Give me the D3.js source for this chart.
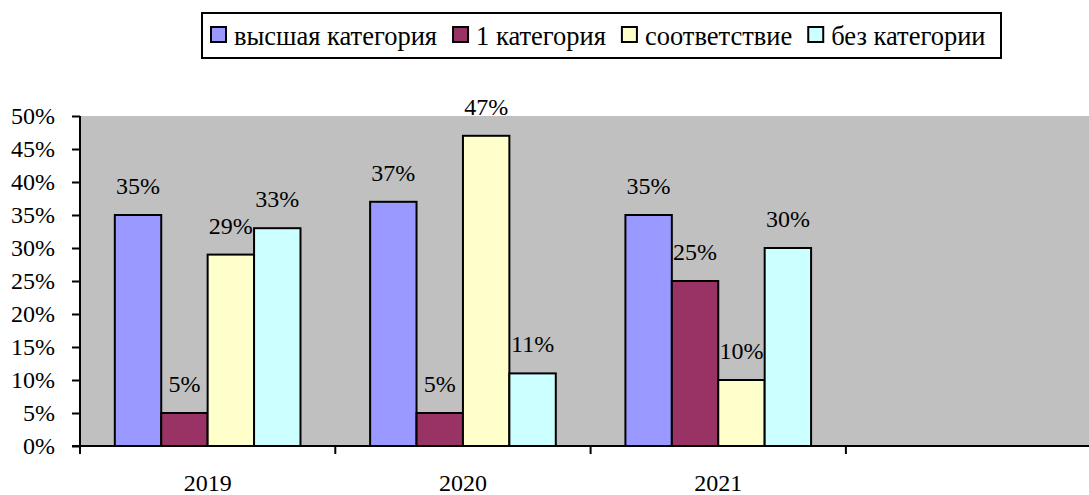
<!DOCTYPE html>
<html>
  <head>
    <meta charset="utf-8">
    <title>Категории</title>
    <script type="text/javascript" src="https://cdn.jsdelivr.net/npm/d3@7/dist/d3.min.js"></script>
    <style>
      body { margin: 0; background: #fff; }
      text { font-family: "Liberation Serif", "Times New Roman", serif; fill: #000; }
    </style>
  </head>
  <body>
    <script type="text/javascript">
      // data
      var years = ["2019", "2020", "2021", ""];
      var series = ["высшая категория", "1 категория", "соответствие", "без категории"];
      var colors = ["#9999FF", "#993366", "#FFFFCC", "#CCFFFF"];
      var vysshaya = [35, 37, 35];
      var pervaya = [5, 5, 25];
      var sootv = [29, 47, 10];
      var bezKat = [33, 11, 30];
      var yTicks = [0, 5, 10, 15, 20, 25, 30, 35, 40, 45, 50];

      var w = 1089
      var h = 495
      var fs = 24
      var legFs = 26.5
      var serif = "Liberation Serif"

      var svg = d3.select("body").append("svg")
                  .attr("width", w)
                  .attr("height", h);

      var plotLeft = 80, plotTop = 116, plotBottom = 446;
      var plotRight = plotLeft + 4 * 255.3;

      var x0 = d3.scaleBand().domain(years).range([plotLeft, plotRight]);
      var x1 = d3.scaleBand().domain(series)
                 .range([0, x0.bandwidth()])
                 .paddingInner(0).paddingOuter(0.75);
      var y = d3.scaleLinear().domain([0, 50]).range([plotBottom, plotTop]);

      // plot area
      svg.append("rect")
         .attr("x", plotLeft).attr("y", y(50))
         .attr("width", plotRight - plotLeft)
         .attr("height", y(0) - y(50))
         .attr("fill", "#C0C0C0");

      // bars
      var rows = [vysshaya, pervaya, sootv, bezKat];
      var bars = [];
      rows.forEach(function(vals, s) {
        vals.forEach(function(v, i) {
          bars.push({year: years[i], s: series[s], c: colors[s], v: v});
        });
      });

      svg.selectAll("rect.bar")
         .data(bars)
         .enter()
         .append("rect")
         .attr("class", "bar")
         .attr("x", function(d) { return x0(d.year) + x1(d.s); })
         .attr("y", function(d) { return y(d.v); })
         .attr("width", x1.bandwidth())
         .attr("height", function(d) { return y(0) - y(d.v); })
         .attr("fill", function(d) { return d.c; })
         .attr("stroke", "#000")
         .attr("stroke-width", 2);

      svg.selectAll("text.val")
         .data(bars)
         .enter()
         .append("text")
         .attr("class", "val")
         .attr("x", function(d) { return x0(d.year) + x1(d.s) + x1.bandwidth() / 2; })
         .attr("y", function(d) { return y(d.v) - 21; })
         .attr("text-anchor", "middle")
         .style("font-family", serif)
         .style("font-size", fs + "px")
         .text(function(d) { return d.v + "%"; });

      // y axis
      var yAxis = d3.axisLeft(y)
                    .tickValues(yTicks)
                    .tickSize(8)
                    .tickPadding(17)
                    .tickFormat(function(d) { return d + "%"; });
      var gy = svg.append("g")
                  .attr("transform", "translate(" + plotLeft + ",0)")
                  .call(yAxis);
      gy.select(".domain").remove();
      gy.append("line")
        .attr("x1", 0).attr("x2", 0)
        .attr("y1", y(50)).attr("y2", y(0) + 8)
        .attr("stroke", "#000").attr("stroke-width", 2);
      gy.selectAll(".tick line").attr("stroke", "#000").attr("stroke-width", 2);
      gy.selectAll(".tick text")
        .style("font-size", fs + "px")
        .style("font-family", serif)
        .attr("fill", "#000");

      // x axis
      var gx = svg.append("g");
      gx.append("line")
        .attr("x1", plotLeft - 8).attr("x2", plotRight)
        .attr("y1", y(0)).attr("y2", y(0))
        .attr("stroke", "#000").attr("stroke-width", 2);
      var bounds = years.map(function(d) { return x0(d); }).concat([plotRight]);
      gx.selectAll("line.tk")
        .data(bounds)
        .enter()
        .append("line")
        .attr("class", "tk")
        .attr("x1", function(d) { return d; }).attr("x2", function(d) { return d; })
        .attr("y1", y(0)).attr("y2", y(0) + 8)
        .attr("stroke", "#000").attr("stroke-width", 2);
      gx.selectAll("text")
        .data(years)
        .enter()
        .append("text")
        .attr("x", function(d) { return x0(d) + x0.bandwidth() / 2; })
        .attr("y", 491)
        .attr("text-anchor", "middle")
        .style("font-family", serif)
        .style("font-size", fs + "px")
        .text(function(d) { return d; });

      // legend
      var lg = svg.append("g");
      var box = lg.append("rect")
                  .attr("x", 202).attr("y", 13)
                  .attr("height", 45)
                  .attr("fill", "#fff")
                  .attr("stroke", "#000").attr("stroke-width", 2);
      var lx = 211;
      series.forEach(function(s, i) {
        lg.append("rect")
          .attr("x", lx).attr("y", 27)
          .attr("width", 15).attr("height", 15)
          .attr("fill", colors[i])
          .attr("stroke", "#000").attr("stroke-width", 2);
        var t = lg.append("text")
                  .attr("x", lx + 23).attr("y", 45)
                  .style("font-family", serif)
                  .style("font-size", legFs + "px")
                  .text(s);
        lx += 23 + t.node().getComputedTextLength() + 16;
      });
      box.attr("width", 1001 - 202);
    </script>
  </body>
</html>
